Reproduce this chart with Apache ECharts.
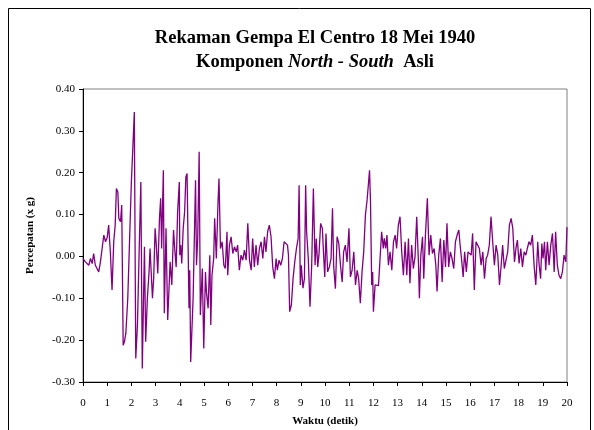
<!DOCTYPE html>
<html><head><meta charset="utf-8">
<script src="https://cdn.jsdelivr.net/npm/echarts@6/dist/echarts.min.js"></script>
<style>html,body{margin:0;padding:0;background:#fff}#c{width:594px;height:430px}</style>
</head><body><div id="c"></div>
<script>
const titleLine1 = 'Rekaman Gempa El Centro 18 Mei 1940';
const xName = 'Waktu (detik)';
const yName = 'Percepatan (x g)';

const times = [
0.00,0.10,0.17,0.24,0.31,0.38,0.44,0.51,0.58,0.65,0.72,0.79,0.86,0.93,1.00,1.06,1.13,1.20,1.27,1.33,1.38,1.44,1.48,1.55,1.60,1.66,1.71,1.77,1.85,1.93,2.00,2.06,2.12,
2.18,2.25,2.32,2.39,2.45,2.54,2.59,2.66,2.73,2.77,2.87,2.92,2.98,3.03,3.09,3.16,3.21,3.25,3.32,3.36,3.43,3.50,3.56,3.60,3.67,3.74,3.80,3.85,3.91,3.98,
4.00,4.04,4.08,4.14,4.20,4.25,4.30,4.38,4.41,4.45,4.55,4.65,4.69,4.74,4.80,4.85,4.93,4.99,5.06,5.10,5.17,5.24,5.28,5.33,5.40,5.44,5.51,5.58,5.62,5.68,5.75,5.82,5.88,5.95,
5.98,6.05,6.12,6.19,6.26,6.33,6.39,6.46,6.53,6.60,6.67,6.74,6.81,6.88,6.95,7.01,7.08,7.15,7.22,7.29,7.36,7.43,7.50,7.56,7.63,7.70,7.77,7.84,7.91,7.98,
8.03,8.10,8.17,8.24,8.31,8.38,8.45,8.49,8.54,8.61,8.68,8.75,8.82,8.89,8.93,8.98,9.02,9.09,9.15,9.20,9.24,9.31,9.38,9.45,9.52,9.59,9.64,9.70,9.75,9.82,9.89,
9.95,9.99,10.04,10.11,10.18,10.25,10.31,10.36,10.43,10.50,10.57,10.64,10.71,10.77,10.84,10.91,10.99,11.05,11.12,11.19,11.26,11.33,11.39,11.46,11.53,11.60,11.67,11.74,11.79,11.84,
11.88,11.93,11.97,12.00,12.07,12.14,12.21,12.28,12.34,12.41,12.45,12.51,12.56,12.62,12.69,12.76,12.83,12.90,12.96,13.03,13.10,13.17,13.24,13.31,13.38,13.45,13.51,13.58,13.65,13.72,13.79,13.86,13.90,
13.96,14.03,14.08,14.15,14.23,14.30,14.37,14.44,14.51,14.58,14.63,14.70,14.77,14.84,14.91,14.98,15.04,15.11,15.18,15.25,15.32,15.39,15.46,15.53,15.57,15.64,15.71,15.77,15.84,15.91,
15.97,16.04,16.10,16.17,16.24,16.31,16.38,16.45,16.52,16.59,16.66,16.72,16.79,16.86,16.93,17.00,17.07,17.14,17.21,17.28,17.34,17.41,17.48,17.55,17.62,17.69,17.76,17.83,17.89,
17.95,18.02,18.09,18.16,18.23,18.30,18.36,18.43,18.50,18.57,18.64,18.71,18.75,18.79,18.85,18.91,18.96,19.01,19.07,19.12,19.19,19.26,19.33,19.40,19.47,19.53,19.60,19.67,19.74,19.81,19.88,19.95,20.00
];

const accel = [
-0.005,-0.013,-0.009,-0.021,-0.005,-0.017,0.007,-0.021,-0.025,-0.037,-0.013,0.019,0.051,0.035,0.045,0.075,0.011,-0.080,0.035,0.075,0.162,0.154,0.091,0.083,0.123,-0.212,-0.204,-0.184,-0.100,0.050,0.180,0.260,0.345,
-0.244,-0.164,0.011,0.178,-0.268,0.023,-0.204,-0.100,-0.037,0.019,-0.100,-0.053,0.067,0.027,-0.041,0.091,0.139,0.019,0.206,-0.136,0.067,-0.152,-0.068,-0.013,-0.068,0.063,0.011,-0.025,0.107,0.178,
0.003,0.027,-0.017,0.067,0.107,0.190,0.198,-0.124,-0.033,-0.252,-0.100,0.182,-0.021,0.043,0.250,-0.140,-0.029,-0.220,-0.037,-0.084,-0.124,0.003,-0.164,-0.045,-0.005,0.091,-0.005,0.131,0.186,0.019,0.035,-0.021,-0.029,0.059,
-0.045,0.027,0.047,0.007,0.023,0.011,0.027,-0.033,0.003,-0.009,0.015,-0.009,0.079,-0.009,-0.033,0.043,-0.025,0.027,-0.021,0.019,0.035,-0.005,0.047,0.011,0.059,0.075,0.047,-0.025,-0.053,-0.005,
-0.033,-0.009,-0.021,-0.005,0.035,0.035,0.027,0.003,-0.132,-0.116,-0.053,-0.013,0.019,0.043,0.170,-0.068,-0.021,-0.076,-0.053,0.170,0.059,-0.005,-0.120,-0.021,0.162,-0.021,0.043,-0.025,0.003,0.079,0.067,
-0.005,-0.049,0.055,-0.037,-0.025,-0.005,0.115,-0.025,-0.077,0.047,0.031,-0.021,-0.061,0.011,0.027,-0.013,0.067,-0.049,-0.033,0.011,-0.068,-0.033,-0.053,-0.112,-0.037,0.011,0.099,0.135,0.170,0.206,
0.131,-0.068,-0.037,-0.132,-0.068,-0.064,-0.070,-0.068,0.059,0.019,0.043,0.019,0.051,-0.021,0.011,-0.033,0.035,0.051,0.019,0.075,0.095,0.011,-0.045,0.035,-0.045,0.043,-0.064,0.027,-0.029,-0.001,0.095,-0.013,-0.100,
0.003,0.047,-0.053,0.051,0.139,0.003,0.051,0.007,0.019,-0.021,-0.084,0.003,0.043,-0.061,0.039,-0.025,0.079,-0.025,0.011,-0.005,-0.029,0.035,0.051,0.063,0.035,-0.005,-0.049,0.011,-0.037,0.011,
0.011,0.003,0.055,-0.080,0.035,0.027,0.019,-0.021,0.011,-0.053,-0.005,0.003,0.027,0.095,0.035,-0.021,0.027,0.003,-0.068,-0.021,0.027,-0.029,-0.025,0.011,0.075,0.091,0.067,-0.013,0.019,
0.039,-0.017,0.019,-0.025,0.011,0.003,0.019,0.035,0.027,0.051,-0.021,-0.068,-0.021,0.035,-0.021,-0.053,0.031,-0.005,0.035,-0.033,0.035,-0.021,0.027,0.055,-0.037,0.059,-0.021,-0.045,-0.053,-0.037,0.003,-0.013,0.070
];

const seriesData = times.map((t, i) => [t, accel[i]]);
const serif = "'Liberation Serif','Times New Roman',serif";

const chart = echarts.init(document.getElementById('c'), null, {renderer: 'canvas'});
chart.setOption({
  backgroundColor: '#ffffff',
  animation: false,
  title: {
    text: '{b|' + titleLine1 + '}\n{b|Komponen }{i|North - South}{b|  Asli}',
    left: 310,
    top: 21,
    textAlign: 'center',
    textStyle: {
      rich: {
        b: {fontFamily: serif, fontWeight: 'bold', fontSize: 18.5, color: '#000', lineHeight: 24},
        i: {fontFamily: serif, fontWeight: 'bold', fontStyle: 'italic', fontSize: 18.5, color: '#000', lineHeight: 24}
      }
    }
  },
  graphic: [{
    type: 'rect',
    shape: {x: 8.5, y: 8.5, width: 582, height: 440},
    style: {fill: 'none', stroke: '#000', lineWidth: 1},
    z: 100, silent: true
  }],
  grid: {
    left: 83, right: 27, top: 89, bottom: 48,
    containLabel: false, outerBoundsMode: 'none',
    show: true, borderColor: '#808080', borderWidth: 1, backgroundColor: '#fff'
  },
  xAxis: {
    type: 'value', min: 0, max: 20, interval: 1,
    name: xName, nameLocation: 'middle', nameGap: 34,
    nameTextStyle: {fontFamily: serif, fontWeight: 'bold', fontSize: 11, color: '#000'},
    axisLine: {show: true, onZero: false, lineStyle: {color: '#000', width: 1}},
    axisTick: {show: true, inside: false, length: 4, lineStyle: {color: '#000'}},
    axisLabel: {fontFamily: serif, fontSize: 11, color: '#000', margin: 16},
    splitLine: {show: false}
  },
  yAxis: {
    type: 'value', min: -0.3, max: 0.4, interval: 0.1,
    name: yName, nameLocation: 'middle', nameGap: 47, nameRotate: 90,
    nameTextStyle: {fontFamily: serif, fontWeight: 'bold', fontSize: 11, color: '#000'},
    axisLine: {show: true, onZero: false, lineStyle: {color: '#000', width: 1}},
    axisTick: {show: true, inside: false, length: 4, lineStyle: {color: '#000'}},
    axisLabel: {fontFamily: serif, fontSize: 11, color: '#000', margin: 8,
      formatter: v => v.toFixed(2)},
    splitLine: {show: false}
  },
  series: [{
    type: 'line',
    data: seriesData,
    showSymbol: false,
    symbol: 'none',
    lineStyle: {color: '#800080', width: 1.3},
    clip: true
  }]
});
</script>
</body></html>
